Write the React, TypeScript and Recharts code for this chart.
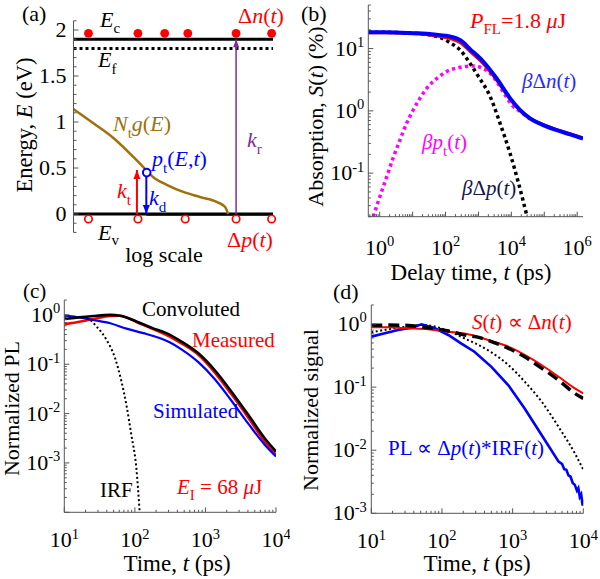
import React from 'react';
import { LineChart, Line, XAxis, YAxis } from 'recharts';

const FONT = '"Liberation Serif", "Times New Roman", serif';
const AXIS = '#555';
const RED = '#ff0000';
const BLUE = '#0000ff';
const MAGENTA = '#ff00ff';
const BROWN = '#a0700c';
const PURPLE = '#7d2f9b';

// ---- (a) band diagram: x is an arbitrary 0..1 "log scale", y is energy (eV)
const aLevelX = [0, 1];
const aEc = [1.9, 1.9];
const aEf = [1.8, 1.8];
const aEv = [0, 0];
const aHoleLineX = [0.365, 1];
const aHoleLineE = [-0.012, -0.012];
const aDosX = [0, 0.1, 0.2, 0.3, 0.35, 0.4, 0.47, 0.55, 0.634, 0.72, 0.76, 0.775];
const aDosE = [1.14, 0.986, 0.826, 0.62, 0.51, 0.4, 0.315, 0.24, 0.185, 0.13, 0.076, 0];
const aElecX = [0.075, 0.323, 0.457, 0.573, 0.815, 0.993];
const aElecE = [1.964, 1.964, 1.964, 1.964, 1.964, 1.964];
const aHoleX = [0.075, 0.323, 0.56, 0.815, 0.993];
const aHoleE = [-0.054, -0.054, -0.054, -0.054, -0.054];
const aKtX = [0.318, 0.318];
const aKtE = [0, 0.478];
const aKdX = [0.365, 0.365];
const aKdE = [0.41, 0];
const aKrX = [0.815, 0.815];
const aKrE = [0, 1.9];
const aTrapX = [0.367];
const aTrapE = [0.45];
const aYTicks = [-0.2, -0.1, 0, 0.1, 0.2, 0.3, 0.4, 0.5, 0.6, 0.7, 0.8, 0.9, 1, 1.1, 1.2, 1.3, 1.4, 1.5, 1.6, 1.7, 1.8, 1.9, 2, 2.1];
const aYLabels = [0, 0.5, 1, 1.5, 2];

// ---- (b) absorption transients
const bTimeN = [0.45, 1.43, 4.58, 14.4, 46, 145, 290, 553, 1390, 3580, 9080, 18500, 36800, 92900, 237000, 608000, 1500000];
const bDnBlue = [18.2, 18.2, 18.0, 17.6, 16.8, 15.5, 13.5, 9.8, 6.2, 3.3, 1.6, 1.03, 0.76, 0.59, 0.49, 0.42, 0.36];
const bDnRed = [18.0, 18.0, 17.8, 17.2, 16.0, 14.3, 12.3, 9.0, 5.7, 3.1, 1.55, 1.01, 0.76, 0.6, 0.5, 0.43, 0.37];
const bTimeP = [0.45, 1.43, 4.58, 14.4, 26.9, 67.6, 138, 276, 553, 986, 2265, 4530, 9060, 16500, 29400];
const bDp = [18.2, 18.2, 18.0, 17.4, 16.9, 15.0, 12.4, 9.5, 5.8, 3.6, 1.7, 0.63, 0.21, 0.069, 0.021];
const bTimeT = [0.635, 1.01, 1.64, 2.6, 4.12, 6.55, 10.4, 16.8, 26.8, 53.7, 110, 275, 697, 1390, 2850, 5700, 10400, 18500, 37000];
const bPt = [0.02, 0.042, 0.088, 0.18, 0.34, 0.63, 1.03, 1.6, 2.3, 3.3, 4.3, 5.0, 5.25, 4.8, 3.5, 2.0, 1.24, 0.98, 0.74];
const bXLabels = [1, 100, 1e4, 1e6];
const bYLabels = [0.1, 1, 10];

// ---- (c) PL transients
const cTime = [10, 15, 25.7, 44.7, 61.7, 107, 182, 269, 457, 794, 1350, 2340, 4070, 6920, 10000];
const cConv = [0.824, 0.875, 0.948, 1.0, 0.962, 0.728, 0.533, 0.437, 0.288, 0.166, 0.0764, 0.0278, 0.00933, 0.00316, 0.0017];
const cMeas = [0.646, 0.708, 0.824, 0.948, 0.962, 0.708, 0.513, 0.404, 0.265, 0.155, 0.0685, 0.0245, 0.00813, 0.00269, 0.00145];
const cSimTime = [10, 15, 25.7, 44.7, 75.9, 132, 224, 316, 457, 794, 1350, 2340, 4070, 6920, 10000];
const cSim = [0.962, 0.904, 0.787, 0.676, 0.525, 0.427, 0.339, 0.275, 0.2, 0.11, 0.0501, 0.0182, 0.00617, 0.00234, 0.00135];
const cIrfTime = [10, 15.8, 21.9, 28.8, 39.8, 52.5, 64.6, 75.9, 89.1, 105, 117];
const cIrf = [0.87, 0.91, 0.83, 0.575, 0.31, 0.132, 0.0447, 0.0148, 0.0037, 0.00078, 0.0001];
const cXLabels = [10, 100, 1000, 10000];
const cYLabels = [1, 0.1, 0.01, 0.001];

// ---- (d) normalized signals
const dTime = [10, 17.4, 33.1, 63.1, 123, 234, 295, 501, 871, 1480, 2570, 4470, 7590, 10000];
const dRed = [0.887, 0.887, 0.855, 0.824, 0.755, 0.687, 0.646, 0.537, 0.437, 0.324, 0.224, 0.146, 0.0955, 0.0794];
const dDash = [0.95, 0.96, 0.95, 0.87, 0.776, 0.653, 0.631, 0.525, 0.412, 0.302, 0.2, 0.129, 0.0794, 0.0661];
const dDotTime = [10, 17.4, 33.1, 51.3, 63.1, 123, 234, 295, 501, 871, 1480, 2570, 4470, 7590, 10000];
const dDot = [0.738, 0.824, 0.912, 0.964, 0.955, 0.776, 0.557, 0.494, 0.355, 0.224, 0.122, 0.0589, 0.0234, 0.00891, 0.0049];
const dBlueTime = [10, 15.5, 24, 37.2, 51.3, 79.4, 123, 186, 288, 501, 871, 1480, 2570, 4470, 5010, 5370, 5750, 6170, 6610, 7080, 7590, 8130, 8510, 8910, 9330, 9770, 10000];
const dBlue = [0.631, 0.711, 0.803, 0.875, 0.99, 0.855, 0.67, 0.494, 0.363, 0.209, 0.107, 0.0457, 0.0174, 0.0066, 0.00603, 0.00501, 0.0049, 0.00398, 0.0038, 0.00302, 0.00282, 0.00229, 0.00251, 0.00182, 0.002, 0.00132, 0.00166];
const dXLabels = [10, 100, 1000, 10000];
const dYLabels = [1, 0.1, 0.01, 0.001];

const pts = (xs: number[], ys: number[]) => xs.map((x, i) => ({ x, y: ys[i] }));

// major decades plus the 2..9 minor ticks that fall inside [lo, hi]
const logTicks = (lo: number, hi: number) => {
  const out: number[] = [];
  for (let e = Math.floor(Math.log10(lo)); e <= Math.ceil(Math.log10(hi)); e++) {
    for (let m = 1; m <= 9; m++) {
      const v = m * Math.pow(10, e);
      if (v >= lo * 0.999 && v <= hi * 1.001) out.push(v);
    }
  }
  return out;
};

type Side = 'left' | 'right' | 'top' | 'bottom';

const Pow = ({ x, y, exp, anchor }: { x: number; y: number; exp: number; anchor: 'middle' | 'end' }) => (
  <text x={x} y={y} textAnchor={anchor} fontFamily={FONT} fontSize={22} fill="#000">
    <tspan>10</tspan>
    <tspan dy={-8.5} fontSize={14.5}>{exp}</tspan>
  </text>
);

const logTick = (side: Side, labels: number[], gap: number) => (props: any) => {
  const { x, y, payload } = props;
  const v = Number(payload?.value);
  const lg = Math.log10(v);
  const exp = Math.round(lg);
  const major = Math.abs(lg - exp) < 1e-6;
  const len = major ? 5 : 2.5;
  const lab = labels.some((l) => Math.abs(l - v) <= Math.abs(l) * 1e-6);
  if (side === 'bottom')
    return (
      <g>
        <line x1={x} x2={x} y1={y} y2={y - len} stroke={AXIS} />
        {lab && <Pow x={x} y={y + gap} exp={exp} anchor="middle" />}
      </g>
    );
  if (side === 'top')
    return (
      <g>
        <line x1={x} x2={x} y1={y} y2={y + len} stroke={AXIS} />
      </g>
    );
  if (side === 'left')
    return (
      <g>
        <line x1={x} x2={x + len} y1={y} y2={y} stroke={AXIS} />
        {lab && <Pow x={x - gap} y={y + 7} exp={exp} anchor="end" />}
      </g>
    );
  return (
    <g>
      <line x1={x} x2={x - len} y1={y} y2={y} stroke={AXIS} />
    </g>
  );
};

const aTick = (props: any) => {
  const { x, y, payload } = props;
  const v = Number(payload?.value);
  const major = aYLabels.includes(v);
  return (
    <g>
      <line x1={x} x2={x + (major ? 5 : 3)} y1={y} y2={y} stroke={AXIS} />
      {major && (
        <text x={x - 7} y={y + 7} textAnchor="end" fontFamily={FONT} fontSize={22} fill="#000">
          {v}
        </text>
      )}
    </g>
  );
};

const arrowHead = (color: string, dir: 'up' | 'down', w: number, h: number) => (props: any) => {
  const { cx, cy, index } = props;
  if (index !== 1) return <g key={`n${index}`} />;
  const s = dir === 'up' ? 1 : -1;
  return <polygon key="head" points={`${cx},${cy} ${cx - w},${cy + s * h} ${cx + w},${cy + s * h}`} fill={color} />;
};

const common = { dataKey: 'y', isAnimationActive: false } as const;

function PanelA() {
  return (
    <LineChart width={290} height={290} margin={{ top: 20.8, right: 17, bottom: 57.6, left: 0 }}>
      <XAxis type="number" dataKey="x" domain={[0, 1]} hide />
      <YAxis
        type="number"
        domain={[-0.2, 2.1]}
        ticks={aYTicks}
        interval={0}
        width={73.5}
        tickSize={0}
        tickMargin={0}
        tickLine={false}
        axisLine={{ stroke: AXIS }}
        tick={aTick}
      />
      <Line {...common} data={pts(aLevelX, aEf)} stroke="#000" strokeWidth={3} strokeDasharray="3 3" dot={false} />
      <Line {...common} data={pts(aLevelX, aEc)} stroke="#000" strokeWidth={3} dot={false} />
      <Line {...common} data={pts(aHoleLineX, aHoleLineE)} stroke={BLUE} strokeWidth={1.5} dot={false} />
      <Line {...common} data={pts(aLevelX, aEv)} stroke="#000" strokeWidth={3} dot={false} />
      <Line {...common} type="monotone" data={pts(aDosX, aDosE)} stroke={BROWN} strokeWidth={2.5} dot={false} />
      <Line {...common} data={pts(aKtX, aKtE)} stroke={RED} strokeWidth={2} dot={arrowHead(RED, 'up', 3.5, 9)} />
      <Line {...common} data={pts(aKdX, aKdE)} stroke={BLUE} strokeWidth={2} dot={arrowHead(BLUE, 'down', 3.5, 9)} />
      <Line {...common} data={pts(aKrX, aKrE)} stroke={PURPLE} strokeWidth={1.5} dot={arrowHead(PURPLE, 'up', 3, 8)} />
      <Line {...common} data={pts(aTrapX, aTrapE)} stroke="none" dot={{ r: 3.8, stroke: BLUE, strokeWidth: 2, fill: '#fff' }} />
      <Line {...common} data={pts(aElecX, aElecE)} stroke="none" dot={{ r: 4.4, stroke: 'none', fill: RED }} />
      <Line {...common} data={pts(aHoleX, aHoleE)} stroke="none" dot={{ r: 3.7, stroke: RED, strokeWidth: 1.7, fill: '#fff' }} />
    </LineChart>
  );
}

type LogPanelProps = {
  width: number;
  height: number;
  margin: { top: number; right: number; bottom: number; left: number };
  xDomain: [number, number];
  yDomain: [number, number];
  xLabels: number[];
  yLabels: number[];
  yWidth: number;
  xHeight: number;
  xGap: number;
  yGap: number;
  children: React.ReactNode;
};

function LogPanel(p: LogPanelProps) {
  const xt = logTicks(p.xDomain[0], p.xDomain[1]);
  const yt = logTicks(p.yDomain[0], p.yDomain[1]);
  const ax = { type: 'number' as const, scale: 'log' as const, allowDataOverflow: true, interval: 0 as const, tickSize: 0, tickMargin: 0, tickLine: false, axisLine: { stroke: AXIS } };
  return (
    <LineChart width={p.width} height={p.height} margin={p.margin}>
      <XAxis {...ax} xAxisId="b" dataKey="x" domain={p.xDomain} ticks={xt} height={p.xHeight} tick={logTick('bottom', p.xLabels, p.xGap)} />
      <XAxis {...ax} xAxisId="t" orientation="top" dataKey="x" domain={p.xDomain} ticks={xt} height={0} tick={logTick('top', [], 0)} />
      <YAxis {...ax} yAxisId="l" domain={p.yDomain} ticks={yt} width={p.yWidth} tick={logTick('left', p.yLabels, p.yGap)} />
      <YAxis {...ax} yAxisId="r" orientation="right" domain={p.yDomain} ticks={yt} width={0} tick={logTick('right', [], 0)} />
      {p.children}
    </LineChart>
  );
}

const series = { ...common, xAxisId: 'b', yAxisId: 'l', dot: false, type: 'monotone' as const };

function PanelB() {
  return (
    <LogPanel
      width={300}
      height={290}
      margin={{ top: 5, right: 17, bottom: 0, left: 0 }}
      xDomain={[0.45, 1.5e6]}
      yDomain={[0.02, 50]}
      xLabels={bXLabels}
      yLabels={bYLabels}
      yWidth={68.3}
      xHeight={73.3}
      xGap={38}
      yGap={4}
    >
      <Line {...series} data={pts(bTimeT, bPt)} stroke={MAGENTA} strokeWidth={3.5} strokeDasharray="3.3 3.3" />
      <Line {...series} data={pts(bTimeP, bDp)} stroke="#000" strokeWidth={3.5} strokeDasharray="3.3 3.3" />
      <Line {...series} data={pts(bTimeN, bDnRed)} stroke={RED} strokeWidth={3} />
      <Line {...series} data={pts(bTimeN, bDnBlue)} stroke={BLUE} strokeWidth={4} />
    </LogPanel>
  );
}

function PanelC() {
  return (
    <LogPanel
      width={290}
      height={289}
      margin={{ top: 10, right: 14, bottom: 0, left: 0 }}
      xDomain={[10, 10000]}
      yDomain={[0.0001, 2]}
      xLabels={cXLabels}
      yLabels={cYLabels}
      yWidth={64.3}
      xHeight={66.7}
      xGap={35}
      yGap={4}
    >
      <Line {...series} data={pts(cTime, cMeas)} stroke={RED} strokeWidth={2.5} />
      <Line {...series} data={pts(cSimTime, cSim)} stroke={BLUE} strokeWidth={2.2} />
      <Line {...series} data={pts(cTime, cConv)} stroke="#000" strokeWidth={2.6} />
      <Line {...series} data={pts(cIrfTime, cIrf)} stroke="#000" strokeWidth={2} strokeDasharray="2 2.5" />
    </LogPanel>
  );
}

function PanelD() {
  return (
    <LogPanel
      width={300}
      height={289}
      margin={{ top: 15, right: 16.7, bottom: 0, left: 0 }}
      xDomain={[10, 10000]}
      yDomain={[0.001, 2]}
      xLabels={dXLabels}
      yLabels={dYLabels}
      yWidth={71.3}
      xHeight={65.7}
      xGap={35}
      yGap={4.5}
    >
      <Line {...series} data={pts(dDotTime, dDot)} stroke="#000" strokeWidth={2} strokeDasharray="2 2.5" />
      <Line {...series} type="linear" data={pts(dBlueTime, dBlue)} stroke={BLUE} strokeWidth={2.6} />
      <Line {...series} data={pts(dTime, dRed)} stroke={RED} strokeWidth={2} />
      <Line {...series} data={pts(dTime, dDash)} stroke="#000" strokeWidth={3.5} strokeDasharray="11 6" />
    </LogPanel>
  );
}

const I = ({ children }: { children: React.ReactNode }) => <tspan fontStyle="italic">{children}</tspan>;

function Overlay() {
  const sub = 15;
  return (
    <svg width={600} height={579} style={{ position: 'absolute', left: 0, top: 0, pointerEvents: 'none' }} fontFamily={FONT} fontSize={21}>
      {/* (a) */}
      <text x={22} y={21} fontSize={22}>(a)</text>
      <text x={100} y={27} fontSize={22}><I>E</I><tspan dy={6} fontSize={sub}>c</tspan></text>
      <text x={98} y={67} fontSize={22}><I>E</I><tspan dy={7} fontSize={sub}>f</tspan></text>
      <text x={238} y={23} fontSize={22} fill={RED}>Δ<I>n</I>(<I>t</I>)</text>
      <text x={113} y={131} fontSize={22} fill={BROWN}>
        <I>N</I><tspan dy={7} fontSize={sub}>t</tspan><tspan dy={-7} fontStyle="italic">g</tspan>(<I>E</I>)
      </text>
      <text x={152} y={166} fontSize={22} fill={BLUE}>
        <I>p</I><tspan dy={7} fontSize={sub}>t</tspan><tspan dy={-7}>(</tspan><I>E</I>,<I>t</I>)
      </text>
      <text x={117} y={198} fontSize={22} fill={RED}><I>k</I><tspan dy={7} fontSize={sub}>t</tspan></text>
      <text x={149} y={205} fontSize={22} fill={BLUE}><I>k</I><tspan dy={7} fontSize={sub}>d</tspan></text>
      <text x={247} y={147} fontSize={22} fill={PURPLE}><I>k</I><tspan dy={7} fontSize={sub}>r</tspan></text>
      <text x={98} y={240} fontSize={22}><I>E</I><tspan dy={5} fontSize={sub}>v</tspan></text>
      <text x={227} y={247} fontSize={22} fill={RED}>Δ<I>p</I>(<I>t</I>)</text>
      <text x={164} y={262} fontSize={22} textAnchor="middle">log scale</text>
      <text x={32} y={125} fontSize={22.5} textAnchor="middle" transform="rotate(-90 32 125)">
        Energy, <I>E</I> (eV)
      </text>

      {/* (b) */}
      <text x={301} y={21} fontSize={22}>(b)</text>
      <text x={470} y={28} fontSize={22} fill={RED}>
        <I>P</I><tspan dy={6} fontSize={sub}>FL</tspan><tspan dy={-6}>=1.8 </tspan><I>μ</I>J
      </text>
      <text x={522} y={88} fontSize={21} fill="#2a2aff"><I>β</I>Δ<I>n</I>(<I>t</I>)</text>
      <text x={422} y={149} fontSize={21} fill={MAGENTA}>
        <I>β</I><I>p</I><tspan dy={7} fontSize={sub}>t</tspan><tspan dy={-7}>(</tspan><I>t</I>)
      </text>
      <text x={462} y={195} fontSize={21} fill="#15154a"><I>β</I>Δ<I>p</I>(<I>t</I>)</text>
      <text x={322.5} y={116.5} fontSize={22} textAnchor="middle" transform="rotate(-90 322.5 116.5)">
        Absorption, <I>S</I>(<I>t</I>) (%)
      </text>
      <text x={471} y={280} fontSize={23} textAnchor="middle">
        Delay time, <I>t</I> (ps)
      </text>

      {/* (c) */}
      <text x={23} y={298} fontSize={21}>(c)</text>
      <text x={142} y={316} fontSize={21}>Convoluted</text>
      <text x={192} y={347} fontSize={21} fill={RED}>Measured</text>
      <text x={153} y={418} fontSize={21} fill={BLUE}>Simulated</text>
      <text x={100} y={497} fontSize={21}>IRF</text>
      <text x={177} y={494} fontSize={21} fill={RED}>
        <I>E</I><tspan dy={6} fontSize={sub}>I</tspan><tspan dy={-6}> = 68 </tspan><I>μ</I>J
      </text>
      <text x={19} y={408.5} fontSize={22} textAnchor="middle" transform="rotate(-90 19 408.5)">
        Normalized PL
      </text>
      <text x={177} y={571} fontSize={23} textAnchor="middle">
        Time, <I>t</I> (ps)
      </text>

      {/* (d) */}
      <text x={333} y={299} fontSize={22}>(d)</text>
      <text x={472} y={329} fontSize={21} fill={RED}>
        <I>S</I>(<I>t</I>) ∝ Δ<I>n</I>(<I>t</I>)
      </text>
      <text x={388} y={455} fontSize={21} fill={BLUE}>
        PL ∝ Δ<I>p</I>(<I>t</I>)*IRF(<I>t</I>)
      </text>
      <text x={317.5} y={410} fontSize={22} textAnchor="middle" transform="rotate(-90 317.5 410)">
        Normalized signal
      </text>
      <text x={477} y={571} fontSize={23} textAnchor="middle">
        Time, <I>t</I> (ps)
      </text>
    </svg>
  );
}

export default function App() {
  return (
    <div style={{ position: 'absolute', left: 0, top: 0, width: 600, height: 579, background: '#fff', overflow: 'hidden' }}>
      <div style={{ position: 'absolute', left: 0, top: 0 }}>
        <PanelA />
      </div>
      <div style={{ position: 'absolute', left: 300, top: 0 }}>
        <PanelB />
      </div>
      <div style={{ position: 'absolute', left: 0, top: 290 }}>
        <PanelC />
      </div>
      <div style={{ position: 'absolute', left: 300, top: 290 }}>
        <PanelD />
      </div>
      <Overlay />
    </div>
  );
}
